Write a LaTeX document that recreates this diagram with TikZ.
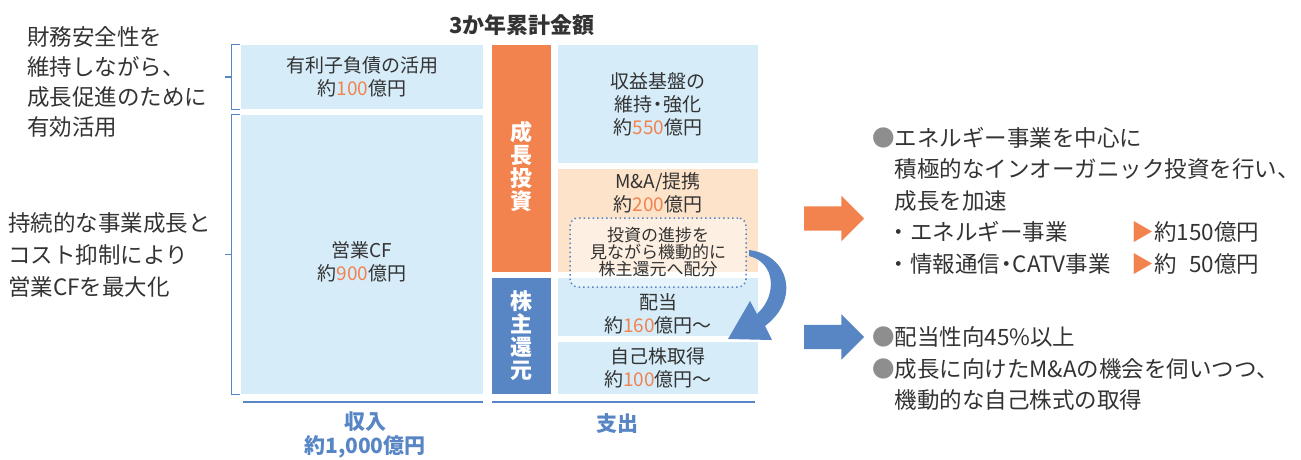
\documentclass[tikz,border=0pt]{standalone}
\usepackage{fontspec}
\setmainfont{Noto Sans CJK JP}
\usetikzlibrary{shapes.arrows}
\definecolor{boxblue}{HTML}{D6ECF9}
\definecolor{peach}{HTML}{FDE3CA}
\definecolor{accent}{HTML}{F2834F}
\definecolor{navy}{HTML}{5886C5}
\definecolor{ink}{HTML}{333333}
\definecolor{dotgray}{HTML}{8E8E8E}
\newcommand{\amt}[1]{\textcolor{accent}{#1}}
\newcommand{\dotmark}{\textcolor{dotgray}{●}}
\newcommand{\middot}{\makebox[0.55em][c]{・}}
\tikzset{
  cell/.style={fill=boxblue, inner sep=0pt, align=center, text=ink, font=\fontsize{19}{23}\selectfont},
  lbl/.style={inner sep=0pt, align=center, text=ink, font=\fontsize{19}{23}\selectfont},
  bar/.style={inner sep=0pt, text=white, align=center, font=\bfseries\fontsize{22}{23}\selectfont},
  brk/.style={draw=navy, line width=1.3pt},
  rule/.style={draw=navy, line width=2.5pt},
  foot/.style={inner sep=0pt, align=center, text=navy, font=\bfseries\fontsize{21}{24}\selectfont},
  side/.style={inner sep=0pt, anchor=west, align=left, text=ink},
  blockarrow/.style={single arrow, inner xsep=0pt, inner ysep=12pt, minimum height=60pt, single arrow head extend=10.5pt}
}
\begin{document}
\begin{tikzpicture}[x=1pt,y=-1pt]
\useasboundingbox (0,0) rectangle (1301,459);
\node[text=ink, font=\bfseries\fontsize{22}{24}\selectfont] (title) at (522,25) {3か年累計金額};
% income side
\node[cell, minimum width=242, minimum height=64] (debt) at (362,77) {有利子負債の活用\\約\amt{100}億円};
\node[cell, minimum width=242, minimum height=279] (opcf) at (362,254.5) {};
\node[lbl] (opcftext) at (362,262) {営業CF\\約\amt{900}億円};
\draw[brk] ([xshift=-1pt]debt.north west) -- ++(-8,0) |- ([xshift=-1pt]debt.south west);
\draw[brk] ([xshift=-9pt]debt.west) -- ++(-7,0);
\draw[brk] ([xshift=-1pt]opcf.north west) -- ++(-8,0) |- ([xshift=-1pt]opcf.south west);
\draw[brk] ([xshift=-9pt]opcf.west) -- ++(-7,0);
\draw[rule] ([yshift=-8pt,xshift=2pt]opcf.south west) -- ([yshift=-8pt]opcf.south east);
\node[foot] (income) at (365,435) {収入\\約1,000億円};
% spending side
\node[bar, fill=accent, minimum width=59, minimum height=227] (grow) at (521.5,158.5) {};
\node[bar] (growtext) at (521.5,166) {成\\長\\投\\資};
\node[bar, fill=navy, minimum width=59, minimum height=116] (ret) at (521.5,336) {株\\主\\還\\元};
\node[cell, minimum width=200, minimum height=118] (base) at (658,104) {収益基盤の\\維持\middot 強化\\約\amt{550}億円};
\node[cell, fill=peach, minimum width=200, minimum height=103] (ma) at (658,220.5) {};
\node[lbl] (matext) at (658,193) {M\&A/提携\\約\amt{200}億円};
\node[cell, minimum width=200, minimum height=58] (div) at (658,307) {};
\node[lbl] (divtext) at (658,314) {配当\\約\amt{160}億円～};
\node[cell, minimum width=200, minimum height=52] (buy) at (658,368) {自己株取得\\約\amt{100}億円～};
\node[draw=navy, line width=1.5pt, dash pattern=on 1.5pt off 3pt, rounded corners=8pt, fill=white, fill opacity=0.45, text opacity=1,
  minimum width=176, minimum height=69, inner sep=0pt, align=center, text=ink, font=\fontsize{17}{17}\selectfont] (flex) at (658,252.5)
  {投資の進捗を\\見ながら機動的に\\株主還元へ配分};
\draw[rule] ([yshift=-8pt]ret.south west) -- ([yshift=-8pt,xshift=-3pt]buy.south east);
\node[foot] (spend) at (617,424) {支出};
% curved arrow
\coordinate (bendfrom) at (749,250);
\coordinate (bendtip) at (728,339);
\fill[navy] (bendfrom) .. controls (790,255) and (800,300) .. (765,326) -- (772,340) -- (bendtip) -- (750,301) -- (757,314)
  .. controls (778,295) and (775,262) .. (749,256) -- cycle;
% outcome
\node[blockarrow, fill=accent] (goarrow) at (828,218.5) {};
\node[blockarrow, fill=navy] (retarrow) at (828,337) {};
\node[side, font=\fontsize{22.5}{30}\selectfont] (safety) at (27,82) {財務安全性を\\維持しながら、\\成長促進のために\\有効活用};
\node[side, font=\fontsize{22.5}{32}\selectfont] (profit) at (8,254.5) {持続的な事業成長と\\コスト抑制により\\営業CFを最大化};
\node[side, font=\fontsize{22.5}{31.5}\selectfont] (plan) at (872,200.5) {\dotmark エネルギー事業を中心に\\
  \hspace*{1em}積極的なインオーガニック投資を行い、\\
  \hspace*{1em}成長を加速\\
  \hspace*{0.7em}\makebox[244pt][l]{・エネルギー事業}\textcolor{accent}{▶}約150億円\\
  \hspace*{0.7em}\makebox[244pt][l]{・情報通信\middot CATV事業}\textcolor{accent}{▶}約\phantom{1}50億円};
\node[side, font=\fontsize{22.5}{31.5}\selectfont] (policy) at (872,368.5) {\dotmark 配当性向45\%以上\\
  \dotmark 成長に向けたM\&Aの機会を伺いつつ、\\
  \hspace*{1em}機動的な自己株式の取得};
\end{tikzpicture}
\end{document}
